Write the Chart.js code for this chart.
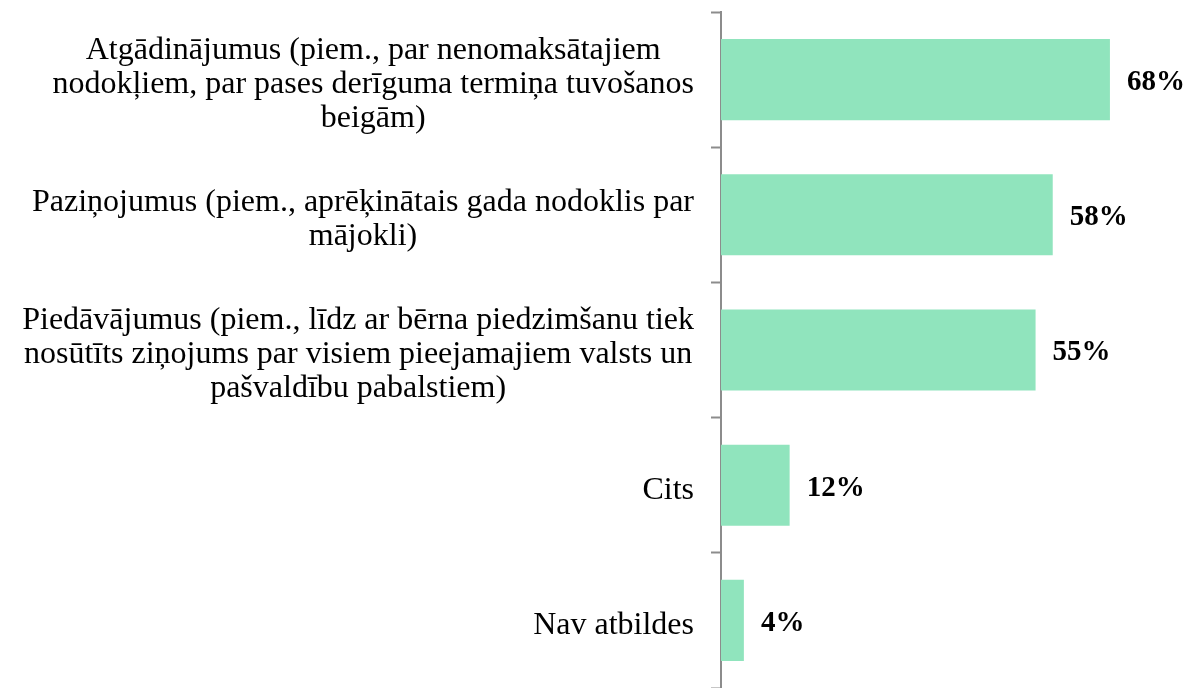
<!DOCTYPE html>
<html>
<head>
<meta charset="utf-8">
<script src="https://cdn.jsdelivr.net/npm/chart.js@4/dist/chart.umd.min.js"></script>
<style>
  html, body { margin: 0; padding: 0; background: #fff; }
  canvas { display: block; }
</style>
</head>
<body>
<canvas id="barChart" width="1190" height="688"></canvas>
<script>
const categories = [
    ['Atgādinājumus (piem., par nenomaksātajiem', 'nodokļiem, par pases derīguma termiņa tuvošanos', 'beigām)'],
    ['Paziņojumus (piem., aprēķinātais gada nodoklis par', 'mājokli)'],
    ['Piedāvājumus (piem., līdz ar bērna piedzimšanu tiek', 'nosūtīts ziņojums par visiem pieejamajiem valsts un', 'pašvaldību pabalstiem)'],
    ['Cits'],
    ['Nav atbildes']
];
const shares = [68, 58, 55, 12, 4];
const valueLabels = ['68%', '58%', '55%', '12%', '4%'];

const barColor = '#90e4bd';
const axisColor = '#8c8c8c';
const serif = "'Liberation Serif', 'Times New Roman', serif";

// category labels: block right aligned, lines centred inside the block
const categoryLabels = {
    id: 'categoryLabels',
    afterDraw(chart) {
        const ctx = chart.ctx;
        const yScale = chart.scales.y;
        const rightEdge = yScale.right - 27;
        const lineHeight = 34;
        ctx.save();
        ctx.font = '32px ' + serif;
        ctx.fillStyle = '#000';
        ctx.textAlign = 'center';
        ctx.textBaseline = 'middle';
        categories.forEach((lines, i) => {
            const widest = Math.max(...lines.map(l => ctx.measureText(l).width));
            const cx = rightEdge - widest / 2;
            const cy = yScale.getPixelForTick(i) + 5;
            const top = cy - (lines.length - 1) * lineHeight / 2;
            lines.forEach((line, j) => {
                ctx.fillText(line, cx, top + j * lineHeight);
            });
        });
        ctx.restore();
    }
};

// percentage labels after the bar ends
const valueText = {
    id: 'valueText',
    afterDatasetsDraw(chart) {
        const ctx = chart.ctx;
        const meta = chart.getDatasetMeta(0);
        ctx.save();
        ctx.font = 'bold 29px ' + serif;
        ctx.fillStyle = '#000';
        ctx.textAlign = 'left';
        ctx.textBaseline = 'middle';
        meta.data.forEach((bar, i) => {
            ctx.fillText(valueLabels[i], bar.x + 17, bar.y + 3);
        });
        ctx.restore();
    }
};

const ctx = document.getElementById('barChart').getContext('2d');
new Chart(ctx, {
    type: 'bar',
    data: {
        labels: categories.map(c => c.join(' ')),
        datasets: [{
            data: shares,
            backgroundColor: barColor,
            borderWidth: 0,
            barPercentage: 0.6,
            categoryPercentage: 1
        }]
    },
    options: {
        indexAxis: 'y',
        responsive: false,
        animation: false,
        layout: { padding: { top: 12, bottom: 0, left: 0, right: 0 } },
        plugins: {
            legend: { display: false },
            tooltip: { enabled: false }
        },
        scales: {
            x: {
                display: false,
                min: 0,
                max: 82
            },
            y: {
                afterFit(scale) { scale.width = 721; },
                ticks: { display: false },
                grid: {
                    offset: true,
                    drawOnChartArea: false,
                    drawTicks: true,
                    tickLength: 10,
                    tickWidth: 2,
                    tickColor: axisColor
                },
                border: { display: true, color: axisColor, width: 2 }
            }
        }
    },
    plugins: [categoryLabels, valueText]
});
</script>
</body>
</html>
